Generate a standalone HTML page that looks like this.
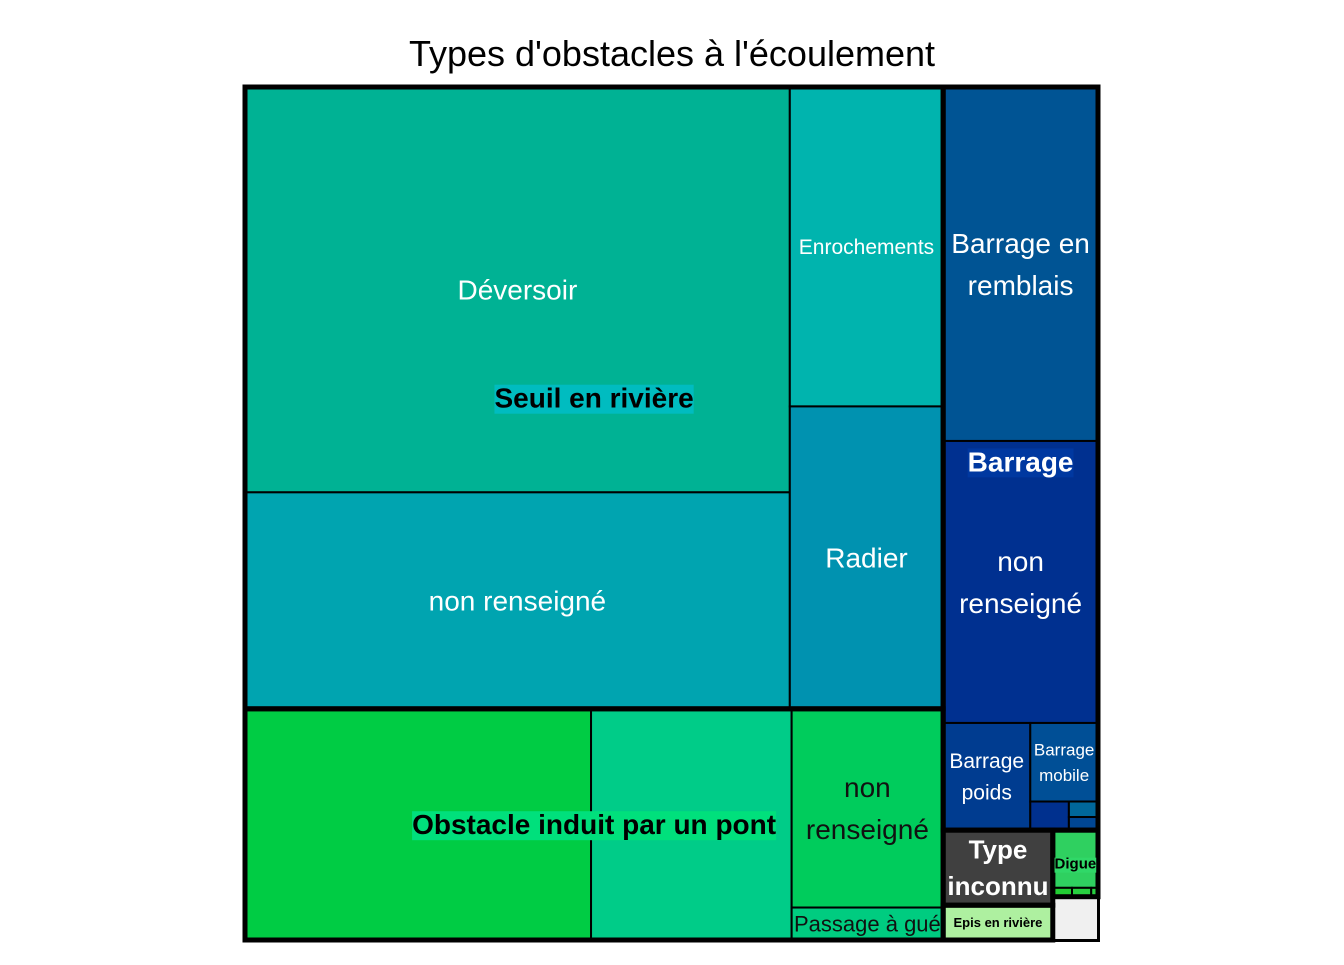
<!DOCTYPE html>
<html><head><meta charset="utf-8">
<style>
html,body{margin:0;padding:0;background:#fff;}
body{width:1344px;height:960px;overflow:hidden;font-family:"Liberation Sans",sans-serif;}
</style></head>
<body>
<svg id="chart" width="1344" height="960" xmlns="http://www.w3.org/2000/svg">
<text x="672" y="66" text-anchor="middle" font-size="36" font-family="Liberation Sans, sans-serif" fill="#000">Types d'obstacles à l'écoulement</text>
<rect x="243" y="85" width="857" height="857" fill="#000"/>
<g id="leaves"></g><g id="groups"></g><g id="labels"></g>
</svg>
<script>
// leaf data
const leafNames = ["deversoir","seuil-nr","enrochements","radier","pont-a","pont-b","pont-nr","passage-gue","remblais","barrage-nr","poids","mobile","barrage-s1","barrage-s2","barrage-s3","type-inconnu","epis","digue","digue-s1","digue-s2","digue-s3","autre"];
const leafValues = [220,117.5,48.8,46.2,79.7,46.2,30,4.9,54.6,43.5,9.3,5.3,1.1,0.45,0.38,8.2,3.8,2.6,0.17,0.17,0.06,1.95];
const leafColors = ["#00b294","#00a4b0","#00b4ae","#0092b0","#00cc44","#00cc88","#00cc5c","#00cc80","#005494","#003090","#003c90","#004f96","#00308e","#00679a","#004694","#404040","#aef0a0","#2fd060","#22cc33","#28d040","#28d040","#f0f0f0"];
const leafLabels = ["Déversoir","non renseigné","Enrochements","Radier","","","non|renseigné","Passage à gué","Barrage en|remblais","non|renseigné","Barrage|poids","Barrage|mobile","","","","","","","","","",""];
const leafTextColors = ["#fff","#fff","#fff","#fff","#fff","#fff","#111","#111","#fff","#fff","#fff","#fff","#fff","#fff","#fff","#fff","#fff","#fff","#fff","#fff","#fff","#fff"];
const leafFontSizes = [28,28,21,28,0,0,28,22,28,28,21,17,0,0,0,0,0,0,0,0,0,0];
const groupNames = ["Seuil en rivière","Obstacle induit par un pont","Barrage","Type inconnu","Digue","Epis en rivière"];

const tree = {d:"h",c:[
  {d:"v",c:[
    {d:"h",g:0,c:[{d:"v",c:[0,1]},{d:"v",c:[2,3]}]},
    {d:"h",g:1,c:[4,5,{d:"v",c:[6,7]}]}
  ]},
  {d:"v",c:[
    {d:"v",g:2,c:[8,9,{d:"h",c:[10,{d:"v",c:[11,{d:"h",c:[12,{d:"v",c:[13,14]}]}]}]}]},
    {d:"h",c:[{d:"v",c:[{g:3,d:"v",c:[15]},{g:5,d:"v",c:[16]}]},{d:"v",c:[{g:4,d:"v",c:[17,{d:"h",c:[18,19,20]}]},{d:"v",c:[21]}]}]}
  ]}
]};
function total(n){return typeof n==="number"?leafValues[n]:n.c.reduce((s,k)=>s+total(k),0);}
const leafRects=[], groupRects=[];
function lay(n,x,y,w,h){
  if(typeof n==="number"){leafRects[n]=[x,y,w,h];return;}
  if(n.g!==undefined) groupRects.push([n.g,x,y,w,h]);
  const t=total(n); let o=0;
  n.c.forEach(k=>{const f=total(k)/t;
    if(n.d==="h"){lay(k,x+o,y,w*f,h);o+=w*f;} else {lay(k,x,y+o,w,h*f);o+=h*f;}});
}
lay(tree,245,87,853,853);
const NS="http://www.w3.org/2000/svg";
const L=document.getElementById("leaves"),G=document.getElementById("groups"),T=document.getElementById("labels");
function mk(tag,attrs,par){const e=document.createElementNS(NS,tag);for(const k in attrs)e.setAttribute(k,attrs[k]);par.appendChild(e);return e;}
leafRects.forEach((r,i)=>{
  const e=mk("rect",{x:r[0],y:r[1],width:r[2],height:r[3],fill:leafColors[i],stroke:"#000","stroke-width":2},L);
  
  
  if(leafLabels[i]){
    const lines=leafLabels[i].split("|"),fs=leafFontSizes[i];
    const cx=r[0]+r[2]/2, cy=r[1]+r[3]/2-(lines.length-1)*fs*0.75;
    lines.forEach((ln,j)=>{
      const t=mk("text",{x:cx,y:cy+j*fs*1.5+fs*0.35,"text-anchor":"middle","font-size":fs,fill:leafTextColors[i]},T);
      t.textContent=ln;
      
      
    });
  }
});
const gStyle={0:{fs:28,fg:"#000",bg:"#00bcc0",dy:0},1:{fs:28,fg:"#000",bg:"#00e07c",dy:0},2:{fs:28,fg:"#fff",bg:"#0038a0",dy:3},3:{fs:26,fg:"#fff",bg:null,dy:0},4:{fs:15,fg:"#000",bg:"#30d868",dy:0},5:{fs:13,fg:"#000",bg:"#aef0a0",dy:0}};
groupRects.forEach(([g,x,y,w,h])=>{
  const e=mk("rect",{x:x,y:y,width:w,height:h,fill:"none",stroke:"#000","stroke-width":5},G);
  
  
  const s=gStyle[g]; const cx=x+w/2, cy=y+h/2+s.dy;
  const lines=g===3?["Type","inconnu"]:[groupNames[g]];
  lines.forEach((ln,j)=>{
    const yy=cy-(lines.length-1)*s.fs*0.7+j*s.fs*1.4;
    const t=mk("text",{x:cx,y:yy+s.fs*0.35,"text-anchor":"middle","font-size":s.fs,"font-weight":"bold",fill:s.fg},T);
    t.textContent=ln;
    
    
    if(s.bg){const b=t.getBBox();const r=mk("rect",{x:b.x,y:b.y+2,width:b.width,height:b.height-2,fill:s.bg},T);T.insertBefore(r,t);
      
      }
  });
});
</script>
</body></html>
